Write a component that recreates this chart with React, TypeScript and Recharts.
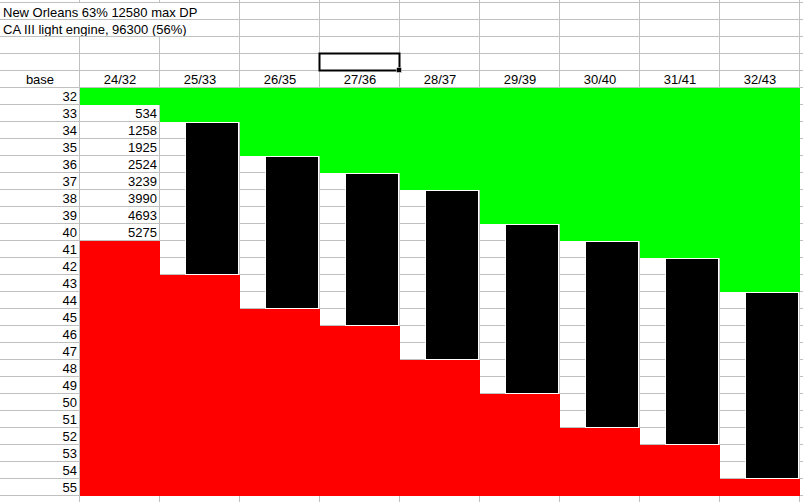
import React from 'react';
import {
  ComposedChart,
  Bar,
  Scatter,
  XAxis,
  YAxis,
  CartesianGrid,
  ReferenceArea
} from 'recharts';

const TITLE_1 = 'New Orleans 63% 12580 max DP';
const TITLE_2 = 'CA III light engine, 96300 (56%)';

// column headers (level / base)
const columns = ['24/32', '25/33', '26/35', '27/36', '28/37', '29/39', '30/40', '31/41', '32/43'];
// row labels down the side
const baseRows = [32, 33, 34, 35, 36, 37, 38, 39, 40, 41, 42, 43, 44, 45, 46, 47, 48, 49, 50, 51, 52, 53, 54, 55];
const firstRow = 32;
const endRow = 56;

// zones per column, row numbers (end is exclusive)
const greenEnd = [33, 34, 36, 37, 38, 40, 41, 42, 44];
const blackStart = [null, 34, 36, 37, 38, 40, 41, 42, 44];
const blackEnd = [null, 43, 45, 46, 48, 50, 52, 53, 55];
const redStart = [41, 43, 45, 46, 48, 50, 52, 53, 55];

// DP numbers in the first column
const dpRows = [33, 34, 35, 36, 37, 38, 39, 40];
const dpValues = [534, 1258, 1925, 2524, 3239, 3990, 4693, 5275];

// sheet rows above the table (titles, blank, selected cell, header) continue the row scale at 27..31
const sheetLines = [27, 28, 29, 30, 31, 32, 33, 34, 35, 36, 37, 38, 39, 40, 41, 42, 43, 44, 45, 46, 47, 48, 49, 50, 51, 52, 53, 54, 55, 56];

const W = 803;
const H = 502;
const FONT = '"Liberation Sans", Arial, sans-serif';
const GRID = '#c0c0c0';

const data = columns.map((col, i) => ({
  col,
  green: [firstRow, greenEnd[i]],
  black: blackStart[i] == null ? null : [blackStart[i], blackEnd[i]],
  red: [redStart[i], endRow]
}));

const dpData = dpRows.map((r, i) => ({ col: columns[0], row: r + 0.5, dp: dpValues[i] }));

const rowTicks = baseRows.map((r) => r + 0.5);

// recharts 3 may hand over a wrapped scale instead of the d3 function
const scaleOf = (s: any, v: any): number => {
  if (!s) return NaN;
  if (typeof s === 'function') return s(v);
  if (typeof s.map === 'function') {
    const out = s.map(v);
    if (Number.isFinite(out)) return out;
  }
  if (typeof s.domain === 'function' && typeof s.range === 'function' && typeof v === 'number') {
    const [d0, d1] = s.domain();
    const [r0, r1] = s.range();
    return r0 + ((v - d0) / (d1 - d0)) * (r1 - r0);
  }
  return NaN;
};
const bandOf = (s: any): number => (s && typeof s.bandwidth === 'function' ? s.bandwidth() : 0);

const hLines = ({ yAxis }: any) => {
  try {
    return sheetLines.map((r) => scaleOf(yAxis.scale, r) - 0.5).filter(Number.isFinite);
  } catch (e) {
    return [];
  }
};
const vLines = ({ xAxis }: any) => {
  try {
    const s = xAxis.scale;
    const edges = columns.map((c) => scaleOf(s, c) - 0.5);
    edges.push(scaleOf(s, columns[columns.length - 1]) + bandOf(s) - 0.5);
    return edges.filter(Number.isFinite);
  } catch (e) {
    return [];
  }
};

const BlackBar = (p: any) => {
  const { x, y, width, height } = p;
  if (x == null || y == null || !height) return null;
  const top = Math.min(y, y + height);
  const h = Math.abs(height);
  return (
    <rect
      x={x + width - 54.5}
      y={top + 0.5}
      width={53}
      height={h - 1}
      fill="#000"
      stroke="#fff"
      strokeWidth={1}
    />
  );
};

const DpCell = (p: any) => {
  const { cx, cy, payload } = p;
  if (cx == null || cy == null) return null;
  return (
    <text x={cx + 37} y={cy} dy={4.5} textAnchor="end" fontSize={13} fill="#000" fontFamily={FONT}>
      {payload.dp}
    </text>
  );
};

const SelectedCell = (p: any) => {
  const { x, y, width, height } = p;
  if (x == null) return null;
  return (
    <g>
      <rect x={x - 0.5} y={y - 0.5} width={width} height={height} fill="none" stroke="#000" strokeWidth={2} />
      <rect x={x + width - 3.5} y={y + height - 3.5} width={5} height={5} fill="#000" stroke="#fff" strokeWidth={0.5} />
    </g>
  );
};

const titleStyle: React.CSSProperties = {
  position: 'absolute',
  left: 0,
  width: 239,
  height: 16,
  background: '#fff',
  fontFamily: FONT,
  fontSize: 13,
  lineHeight: '19px',
  paddingLeft: 3,
  boxSizing: 'border-box',
  overflow: 'hidden',
  whiteSpace: 'nowrap',
  color: '#000'
};

export default function App() {
  return (
    <div style={{ position: 'absolute', left: 0, top: 0, width: W, height: H, background: '#fff' }}>
      <ComposedChart
        width={W}
        height={H}
        data={data}
        margin={{ top: 71, right: 3, bottom: 6, left: 0 }}
        barCategoryGap={0}
        barGap={0}
        style={{ fontFamily: FONT }}
      >
        <CartesianGrid
          x={0}
          y={0}
          width={W}
          height={H}
          stroke={GRID}
          horizontalCoordinatesGenerator={hLines}
          verticalCoordinatesGenerator={vLines}
        />
        <XAxis
          dataKey="col"
          orientation="top"
          height={17}
          axisLine={false}
          tickLine={false}
          tickSize={0}
          tickMargin={4}
          interval={0}
          allowDuplicatedCategory={false}
          tick={{ fill: '#000', fontSize: 13 }}
        />
        <XAxis xAxisId="red" dataKey="col" hide />
        <XAxis xAxisId="black" dataKey="col" hide />
        <YAxis
          type="number"
          domain={[firstRow, endRow]}
          reversed
          width={80}
          ticks={rowTicks}
          interval={0}
          allowDecimals
          axisLine={false}
          tickLine={false}
          tickSize={0}
          tickMargin={3}
          tickFormatter={(v: number) => String(Math.floor(v))}
          tick={{ fill: '#000', fontSize: 13 }}
          label={{ value: 'base', position: 'top', offset: 4, fill: '#000', fontSize: 13 }}
        />
        <Bar dataKey="green" fill="#00ff00" isAnimationActive={false} />
        <Bar xAxisId="red" dataKey="red" fill="#ff0000" isAnimationActive={false} />
        <Bar xAxisId="black" dataKey="black" shape={BlackBar} isAnimationActive={false} />
        <Scatter data={dpData} dataKey="row" shape={DpCell} isAnimationActive={false} />
        <ReferenceArea
          x1="27/36"
          x2="27/36"
          y1={30}
          y2={31}
          ifOverflow="visible"
          shape={SelectedCell}
        />
      </ComposedChart>
      <div style={{ ...titleStyle, top: 3 }}>{TITLE_1}</div>
      <div style={{ ...titleStyle, top: 20 }}>{TITLE_2}</div>
    </div>
  );
}
